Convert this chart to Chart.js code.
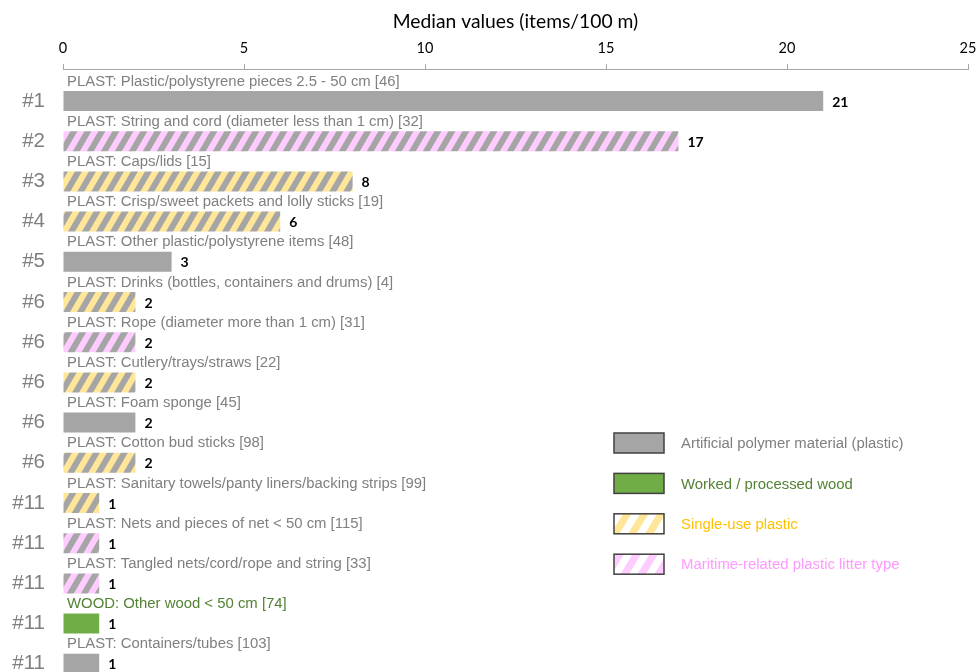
<!DOCTYPE html>
<html><head><meta charset="utf-8">
<script src="https://cdn.jsdelivr.net/npm/chart.js@4/dist/chart.umd.min.js"></script>
<style>html,body{margin:0;padding:0;background:#fff;overflow:hidden}#wrap{position:relative;width:978px;height:672px}</style>
</head><body><div id="wrap"><canvas id="c"></canvas></div>
<script>
// ---- data ----
const ranks = ['#1','#2','#3','#4','#5','#6','#6','#6','#6','#6','#11','#11','#11','#11','#11'];
const categories = [
  'PLAST: Plastic/polystyrene pieces 2.5 - 50 cm [46]',
  'PLAST: String and cord (diameter less than 1 cm) [32]',
  'PLAST: Caps/lids [15]',
  'PLAST: Crisp/sweet packets and lolly sticks [19]',
  'PLAST: Other plastic/polystyrene items [48]',
  'PLAST: Drinks (bottles, containers and drums) [4]',
  'PLAST: Rope (diameter more than 1 cm) [31]',
  'PLAST: Cutlery/trays/straws [22]',
  'PLAST: Foam sponge [45]',
  'PLAST: Cotton bud sticks [98]',
  'PLAST: Sanitary towels/panty liners/backing strips [99]',
  'PLAST: Nets and pieces of net < 50 cm [115]',
  'PLAST: Tangled nets/cord/rope and string [33]',
  'WOOD: Other wood < 50 cm [74]',
  'PLAST: Containers/tubes [103]'
];
const values = [21,17,8,6,3,2,2,2,2,2,1,1,1,1,1];
const types = ['plastic','maritime','single','single','plastic','single','maritime','single','plastic','single','single','maritime','maritime','wood','plastic'];
const xTicks = [0,5,10,15,20,25];
const axisTitle = 'Median values (items/100 m)';
const legendTypes = ['plastic','wood','single','maritime'];
const legendLabels = ['Artificial polymer material (plastic)','Worked / processed wood','Single-use plastic','Maritime-related plastic litter type'];

// ---- styles ----
const STYLE = {
  plastic:  {base:'#a5a5a5', stripe:null,      legendBase:'#a5a5a5', text:'#808080'},
  wood:     {base:'#70ad47', stripe:null,      legendBase:'#70ad47', text:'#548235'},
  single:   {base:'#a5a5a5', stripe:'#ffe699', legendBase:'#ffffff', text:'#ffc000'},
  maritime: {base:'#a5a5a5', stripe:'#ffccff', legendBase:'#ffffff', text:'#ff99ff'}
};

const canvas = document.getElementById('c');
const mainCtx = canvas.getContext('2d');
function makeFill(base, stripe, w, h, sw) {
  if (!stripe) return base;
  const c = document.createElement('canvas'); c.width = w; c.height = h;
  const g = c.getContext('2d');
  g.fillStyle = base; g.fillRect(0,0,w,h);
  g.fillStyle = stripe;
  for (const x0 of [-w, 0, w]) {
    g.beginPath(); g.moveTo(x0, h); g.lineTo(x0+sw, h); g.lineTo(x0+sw+w, 0); g.lineTo(x0+w, 0); g.closePath(); g.fill();
  }
  return mainCtx.createPattern(c, 'repeat');
}
const barFills = types.map(t => makeFill(STYLE[t].base, STYLE[t].stripe, 14, 24, 7));

const overlay = {
  id: 'overlay',
  afterDatasetsDraw(chart) {
    const ctx = chart.ctx;
    const meta = chart.getDatasetMeta(1);
    const xs = chart.scales.x;
    ctx.save();
    ctx.textBaseline = 'middle';
    meta.data.forEach((el, i) => {
      ctx.font = '20.5px "Liberation Sans", Arial, sans-serif';
      ctx.fillStyle = '#7f7f7f'; ctx.textAlign = 'right';
      ctx.fillText(ranks[i], 45, el.y);
      ctx.font = '14.9px "Liberation Sans", Arial, sans-serif';
      ctx.textAlign = 'left';
      ctx.fillStyle = types[i] === 'wood' ? STYLE.wood.text : '#808080';
      ctx.fillText(categories[i], xs.left + 4, el.y - 19.5);
      ctx.font = 'bold 14px Lato, sans-serif';
      ctx.fillStyle = '#000';
      ctx.fillText(String(values[i]), el.x + 9, el.y + 1);
    });
    // legend
    legendTypes.forEach((t, k) => {
      const cy = 443 + 40.4 * k;
      const bx = 614, bw = 50, bh = 20;
      ctx.fillStyle = makeFill(STYLE[t].legendBase, STYLE[t].stripe, 17, 28, 8.5);
      ctx.fillRect(bx, cy - bh/2, bw, bh);
      ctx.lineWidth = 1.5; ctx.strokeStyle = '#404040';
      ctx.strokeRect(bx, cy - bh/2, bw, bh);
      ctx.font = '14.9px "Liberation Sans", Arial, sans-serif';
      ctx.textAlign = 'left';
      ctx.fillStyle = STYLE[t].text;
      ctx.fillText(legendLabels[k], 681, cy + 1);
    });
    ctx.restore();
  }
};

new Chart(canvas, {
  type: 'bar',
  data: {
    labels: categories,
    datasets: [
      {label: '', data: categories.map(() => null), backgroundColor: 'rgba(0,0,0,0)'},
      {label: 'Median', data: values, backgroundColor: barFills, borderWidth: 0}
    ]
  },
  options: {
    indexAxis: 'y',
    responsive: true,
    maintainAspectRatio: false,
    animation: false,
    categoryPercentage: 1.184,
    barPercentage: 0.84,
    layout: {padding: {left: 63, right: 10, top: 0, bottom: 0}},
    plugins: {legend: {display: false}, tooltip: {enabled: false}},
    scales: {
      x: {
        type: 'linear', position: 'top', min: 0, max: 25,
        afterBuildTicks: s => { s.ticks = xTicks.map(v => ({value: v})); },
        afterFit: s => { s.height = 69; s.paddingLeft = 0; s.paddingRight = 0; },
        ticks: {color: '#000', font: {family: 'Lato', size: 14.5}, padding: 7, maxRotation: 0, autoSkip: false},
        grid: {drawOnChartArea: false, drawTicks: true, tickLength: 5, color: '#a6a6a6', tickColor: '#a6a6a6'},
        border: {display: true, color: '#a6a6a6', width: 1},
        title: {display: true, text: axisTitle, color: '#000', font: {family: 'Lato', size: 19.3}, padding: {top: 10, bottom: 0}}
      },
      y: {
        type: 'category', display: false, offset: true
      }
    }
  },
  plugins: [overlay]
});
</script>
</body></html>
